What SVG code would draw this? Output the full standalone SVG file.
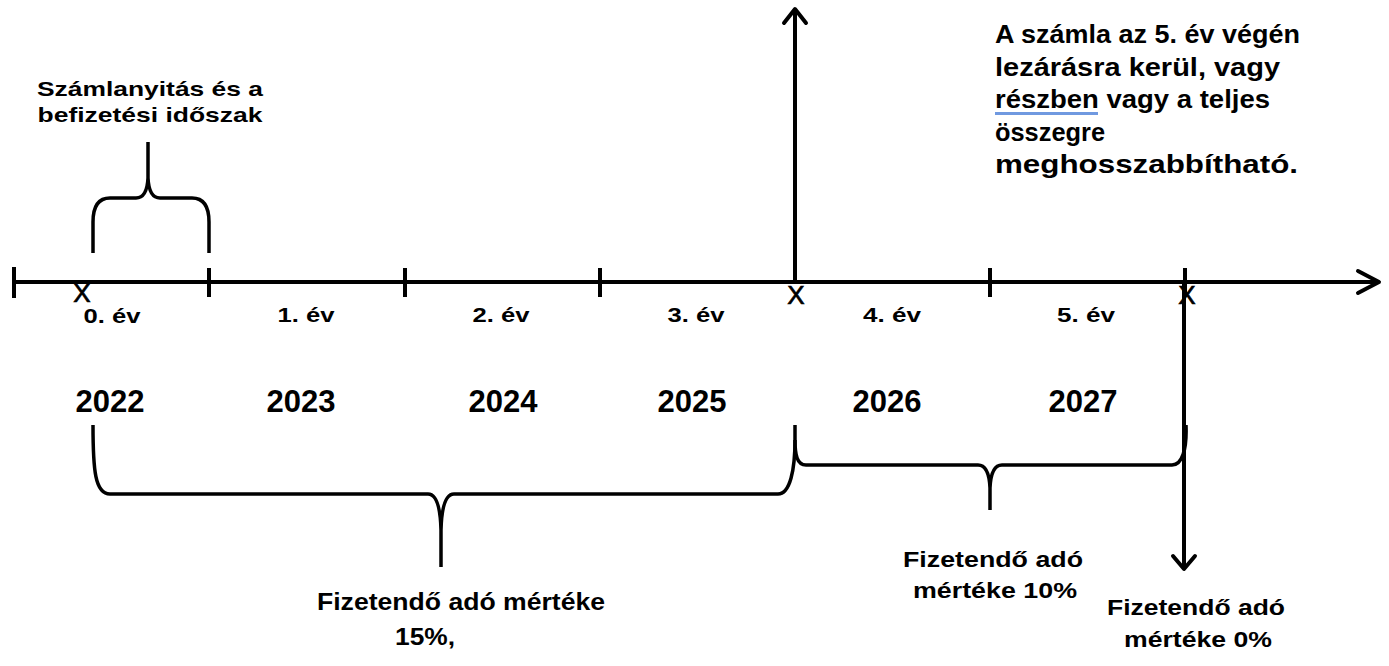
<svg xmlns="http://www.w3.org/2000/svg" width="1389" height="666" viewBox="0 0 1389 666">
<style>
  text { font-family: "Liberation Sans", Arial, sans-serif; fill: #000; }
  .b { font-weight: bold; }
  .lbl { font-size: 21px; font-weight: bold; text-anchor: middle; }
  .yr { font-size: 31px; font-weight: bold; text-anchor: middle; }
  .x { font-size: 26px; text-anchor: middle; stroke: #000; stroke-width: 0.7; }
  .ln { stroke: #000; stroke-width: 4; fill: none; stroke-linecap: butt; }
  .br { stroke: #000; stroke-width: 3.5; fill: none; stroke-linejoin: round; }
  .ah { stroke: #000; stroke-width: 4; fill: none; stroke-linecap: round; stroke-linejoin: round; }
</style>
<rect width="1389" height="666" fill="#fff"/>

<g id="connectors">
  <!-- main timeline axis -->
  <line class="ln" x1="14" y1="282" x2="1378" y2="282"/>
  <polyline class="ah" points="1358,271 1379,282 1358,293"/>
  <!-- ticks -->
  <line class="ln" x1="14" y1="267" x2="14" y2="298"/>
  <line class="ln" x1="209" y1="268" x2="209" y2="297"/>
  <line class="ln" x1="405" y1="268" x2="405" y2="297"/>
  <line class="ln" x1="600" y1="268" x2="600" y2="297"/>
  <line class="ln" x1="990" y1="268" x2="990" y2="297"/>
  <line class="ln" x1="1185" y1="268" x2="1185" y2="297"/>
  <!-- upward arrow at end of year 3 -->
  <line class="ln" x1="795" y1="284" x2="795" y2="10"/>
  <polyline class="ah" points="784,23 795,9 806,23"/>
  <!-- downward arrow at end of year 5 -->
  <line class="ln" x1="1184" y1="284" x2="1184" y2="568"/>
  <polyline class="ah" points="1173,556 1184,569 1195,556"/>
  <!-- top brace -->
  <path class="br" d="M93,253 V222 Q93,198 110,198 H136 Q147,198 148,178 V142 M148,178 Q149,198 160,198 H192 Q209,198 209,222 V253"/>
  <!-- lower brace 15% -->
  <path class="br" d="M93,425 C93,470 95,494 110,494 H428 Q440,494 441,530 V567 M441,530 Q442,494 454,494 H778 C790,494 795,470 795,440 V425"/>
  <!-- lower brace 10% -->
  <path class="br" d="M795,440 C795,455 797,465 806,465 H978 Q989,465 990,488 V510 M990,488 Q991,465 1002,465 H1172 C1182,465 1187,450 1186,425"/>
</g>

<g id="markers">
  <text class="x" x="82" y="302">X</text>
  <text class="x" x="796" y="304">X</text>
  <text class="x" x="1187" y="304">X</text>
</g>

<g id="year-labels">
  <text class="lbl" x="112" y="323" textLength="57" lengthAdjust="spacingAndGlyphs">0. év</text>
  <text class="lbl" x="306" y="322" textLength="57" lengthAdjust="spacingAndGlyphs">1. év</text>
  <text class="lbl" x="501" y="322" textLength="57" lengthAdjust="spacingAndGlyphs">2. év</text>
  <text class="lbl" x="696" y="322" textLength="57" lengthAdjust="spacingAndGlyphs">3. év</text>
  <text class="lbl" x="892" y="322" textLength="58" lengthAdjust="spacingAndGlyphs">4. év</text>
  <text class="lbl" x="1086" y="322" textLength="58" lengthAdjust="spacingAndGlyphs">5. év</text>
</g>

<g id="years">
  <text class="yr" x="110" y="412">2022</text>
  <text class="yr" x="301" y="412">2023</text>
  <text class="yr" x="503" y="412">2024</text>
  <text class="yr" x="692" y="412">2025</text>
  <text class="yr" x="887" y="412">2026</text>
  <text class="yr" x="1083" y="412">2027</text>
</g>

<g id="node-opening">
  <text class="b" font-size="21" text-anchor="middle" x="150" y="96" textLength="226" lengthAdjust="spacingAndGlyphs">Számlanyitás és a</text>
  <text class="b" font-size="21" text-anchor="middle" x="150" y="122" textLength="225" lengthAdjust="spacingAndGlyphs">befizetési időszak</text>
</g>

<g id="node-closing">
  <text class="b" font-size="25" x="995" y="43" textLength="305" lengthAdjust="spacingAndGlyphs">A számla az 5. év végén</text>
  <text class="b" font-size="25" x="995" y="76" textLength="285" lengthAdjust="spacingAndGlyphs">lezárásra kerül, vagy</text>
  <text class="b" font-size="25" x="995" y="108" textLength="275" lengthAdjust="spacingAndGlyphs">részben vagy a teljes</text>
  <line x1="995" y1="113.5" x2="1098" y2="113.5" stroke="#7099e0" stroke-width="3"/>
  <text class="b" font-size="25" x="995" y="141" textLength="110" lengthAdjust="spacingAndGlyphs">összegre</text>
  <text class="b" font-size="25" x="995" y="173" textLength="303" lengthAdjust="spacingAndGlyphs">meghosszabbítható.</text>
</g>

<g id="node-tax15">
  <text class="b" font-size="23" x="317" y="610" textLength="288" lengthAdjust="spacingAndGlyphs">Fizetendő adó mértéke</text>
  <text class="b" font-size="23" x="395" y="645" textLength="60" lengthAdjust="spacingAndGlyphs">15%,</text>
</g>

<g id="node-tax10">
  <text class="b" font-size="22" text-anchor="middle" x="993" y="567" textLength="180" lengthAdjust="spacingAndGlyphs">Fizetendő adó</text>
  <text class="b" font-size="22" text-anchor="middle" x="995" y="598" textLength="164" lengthAdjust="spacingAndGlyphs">mértéke 10%</text>
</g>

<g id="node-tax0">
  <text class="b" font-size="22" text-anchor="middle" x="1196" y="615" textLength="178" lengthAdjust="spacingAndGlyphs">Fizetendő adó</text>
  <text class="b" font-size="22" text-anchor="middle" x="1198" y="647" textLength="148" lengthAdjust="spacingAndGlyphs">mértéke 0%</text>
</g>
</svg>
